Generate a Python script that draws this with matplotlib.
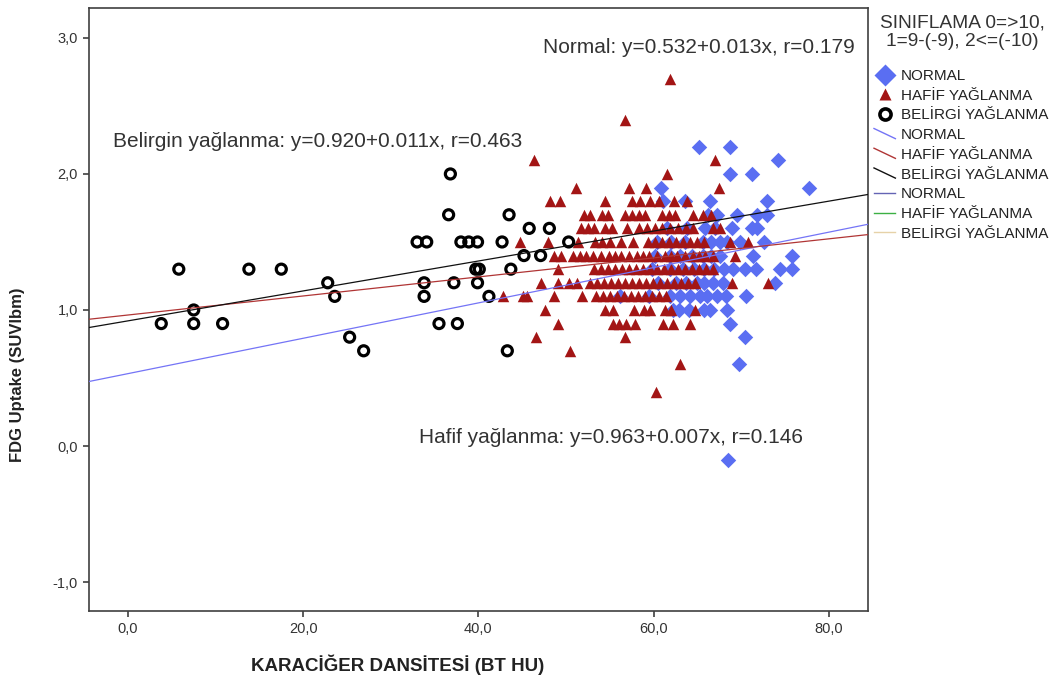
import matplotlib
matplotlib.use("Agg")
import matplotlib.pyplot as plt
import numpy as np
from matplotlib.lines import Line2D
from matplotlib.legend_handler import HandlerBase

plt.rcParams['font.family'] = ['Liberation Sans', 'DejaVu Sans']

# Belirgin yaglanma (open circles)
belirgin_x = [3.8, 5.8, 7.5, 7.5, 10.8, 13.8, 17.5, 22.8, 23.6, 25.3, 26.9, 33.0, 34.1, 33.8,
              33.8, 35.5, 36.6, 36.8, 37.2, 37.6, 38.0, 38.9, 39.9, 39.7, 40.1, 39.9, 41.2,
              42.7, 43.5, 43.7, 43.3, 45.2, 45.8, 47.1, 48.1, 50.3]
belirgin_y = [0.9, 1.3, 1.0, 0.9, 0.9, 1.3, 1.3, 1.2, 1.1, 0.8, 0.7, 1.5, 1.5, 1.2,
              1.1, 0.9, 1.7, 2.0, 1.2, 0.9, 1.5, 1.5, 1.5, 1.3, 1.3, 1.2, 1.1,
              1.5, 1.7, 1.3, 0.7, 1.4, 1.6, 1.4, 1.6, 1.5]

# Hafif yaglanma (triangles), read row by row
hafif_row_y = [2.7, 2.4, 2.1, 2.0, 1.9, 1.8, 1.7, 1.6, 1.5, 1.4, 1.3, 1.2, 1.1, 1.0,
               0.9, 0.8, 0.7, 0.6, 0.4]
hafif_row_x = [
    [61.9],
    [56.7],
    [46.3, 67.0],
    [61.5],
    [51.1, 57.2, 59.1, 67.5],
    [48.2, 49.3, 54.5, 57.5, 58.5, 59.6, 60.6, 62.3, 63.8],
    [52.0, 52.7, 54.1, 54.8, 56.7, 57.5, 58.3, 59.0, 60.9, 61.7, 62.4, 64.5, 65.6, 66.6],
    [51.7, 52.5, 53.2, 54.4, 55.2, 57.0, 58.3, 59.2, 60.1, 61.0, 61.9, 62.8, 63.7, 64.5,
     66.8, 67.6],
    [44.7, 48.0, 51.4, 53.3, 54.1, 55.0, 56.3, 57.6, 59.4, 60.2, 61.0, 61.8, 62.6, 63.4,
     64.2, 65.0, 65.8, 68.7, 70.8],
    [48.6, 49.4, 50.8, 51.6, 52.3, 53.1, 54.0, 54.9, 55.6, 56.3, 57.2, 58.1, 58.8, 59.5,
     60.4, 61.3, 62.0, 62.7, 63.6, 64.5, 65.2, 65.9, 66.8, 69.3],
    [49.1, 53.2, 54.0, 54.8, 55.6, 56.4, 57.2, 58.0, 58.8, 59.6, 60.4, 61.2, 62.0, 62.8,
     63.6, 64.4, 65.2, 66.0, 66.8],
    [47.2, 49.1, 50.3, 51.2, 52.7, 53.5, 54.3, 55.1, 55.9, 56.7, 57.5, 58.3, 59.1, 59.9,
     60.7, 61.5, 62.3, 63.1, 63.9, 64.7, 68.9, 73.1],
    [42.8, 45.1, 45.6, 48.6, 51.8, 53.4, 54.2, 55.0, 55.8, 56.6, 57.4, 58.2, 59.0, 59.8,
     60.6, 61.4],
    [47.6, 54.5, 55.4, 57.8, 58.9, 59.6, 61.3, 62.0, 64.7],
    [49.1, 55.4, 56.1, 56.8, 57.9, 61.1, 62.2, 64.2],
    [46.6, 56.7],
    [50.4],
    [63.0],
    [60.3],
]

# Normal (diamonds)
normal_x = [65.2, 68.7, 74.2, 68.7, 71.2, 77.7, 60.8,
            61.1, 63.6, 66.4, 72.9,
            66.2, 67.2, 69.5, 71.8, 72.9,
            61.5, 63.8, 65.9, 67.0, 68.9, 71.2, 71.8,
            60.4, 62.0, 63.6, 65.6, 66.6, 67.6, 68.4, 69.9, 72.6,
            60.2, 61.9, 63.0, 64.4, 65.6, 66.6, 67.6, 71.3, 75.8,
            59.8, 61.9, 63.3, 64.6, 65.7, 66.9, 68.0, 69.1, 70.4, 71.7, 74.4, 75.8,
            60.5, 62.6, 63.7, 64.9, 65.7, 66.8, 67.9, 73.9,
            56.2, 59.5, 61.9, 63.0, 64.2, 65.3, 66.1, 67.2, 68.3, 70.6,
            62.2, 62.9, 64.0, 65.7, 66.4, 68.4,
            68.7, 70.4, 69.7, 68.5]
normal_y = [2.2, 2.2, 2.1, 2.0, 2.0, 1.9, 1.9,
            1.8, 1.8, 1.8, 1.8,
            1.7, 1.7, 1.7, 1.7, 1.7,
            1.6, 1.6, 1.6, 1.6, 1.6, 1.6, 1.6,
            1.5, 1.5, 1.5, 1.5, 1.5, 1.5, 1.5, 1.5, 1.5,
            1.4, 1.4, 1.4, 1.4, 1.4, 1.4, 1.4, 1.4, 1.4,
            1.3, 1.3, 1.3, 1.3, 1.3, 1.3, 1.3, 1.3, 1.3, 1.3, 1.3, 1.3,
            1.2, 1.2, 1.2, 1.2, 1.2, 1.2, 1.2, 1.2,
            1.1, 1.1, 1.1, 1.1, 1.1, 1.1, 1.1, 1.1, 1.1, 1.1,
            1.0, 1.0, 1.0, 1.0, 1.0, 1.0,
            0.9, 0.8, 0.6, -0.1]

# fit lines: intercept, slope (from the chart annotations)
fit_intercept = [0.532, 0.963, 0.920]
fit_slope = [0.013, 0.007, 0.011]
fit_r = [0.179, 0.146, 0.463]
fit_colors = ['#7474f6', '#b03535', '#101010']

legend_labels = ['NORMAL', 'HAFİF YAĞLANMA', 'BELİRGİ YAĞLANMA']

x_ticks = [0, 20, 40, 60, 80]
y_ticks = [-1, 0, 1, 2, 3]

hafif_x = [v for row in hafif_row_x for v in row]
hafif_y = [y for y, row in zip(hafif_row_y, hafif_row_x) for _ in row]


class SlopeHandler(HandlerBase):
    # diagonal line glyph like the SPSS legend
    def create_artists(self, legend, orig, xd, yd, w, h, fs, trans):
        ln = Line2D([-xd, -xd + w], [-yd + h * 1.0, -yd + h * 0.05],
                    color=orig.get_color(), lw=orig.get_linewidth(), transform=trans)
        return [ln]


fig = plt.figure(figsize=(10.59, 6.89), dpi=100)
ax = fig.add_axes([89 / 1059, 78 / 689, 779 / 1059, 603 / 689])

ax.scatter(normal_x, normal_y, marker='D', s=62, color='#5a6ef2', linewidths=0, zorder=2)
ax.scatter(hafif_x, hafif_y, marker='^', s=68, color='#a31515', linewidths=0, zorder=3)
ax.scatter(belirgin_x, belirgin_y, marker='o', s=52, facecolors='none',
           edgecolors='black', linewidths=2.3, zorder=4)

ax.set_xlim(-4.45, 84.47)
ax.set_ylim(-1.213, 3.22)

xx = np.array(ax.get_xlim())
for b0, b1, c in zip(fit_intercept, fit_slope, fit_colors):
    ax.plot(xx, b0 + b1 * xx, color=c, lw=0.9, zorder=5)

ann_font = 15
ax.text(47.4, 2.93, 'Normal: y=%.3f+%.3fx, r=%.3f' % (fit_intercept[0], fit_slope[0], fit_r[0]),
        fontsize=ann_font, color='#333333', va='center', ha='left')
ax.text(-1.7, 2.235, 'Belirgin yağlanma: y=%.3f+%.3fx, r=%.3f' % (fit_intercept[2], fit_slope[2], fit_r[2]),
        fontsize=ann_font, color='#333333', va='center', ha='left')
ax.text(33.2, 0.066, 'Hafif yağlanma: y=%.3f+%.3fx, r=%.3f' % (fit_intercept[1], fit_slope[1], fit_r[1]),
        fontsize=ann_font, color='#333333', va='center', ha='left')

ax.set_xticks(x_ticks, [('%.1f' % v).replace('.', ',') for v in x_ticks])
ax.set_yticks(y_ticks, [('%.1f' % v).replace('.', ',') for v in y_ticks])
ax.tick_params(direction='out', length=4, width=1.2, color='#404040',
               labelsize=10.5, labelcolor='#333333', pad=4)
for sp in ax.spines.values():
    sp.set_color('#404040')
    sp.set_linewidth(1.2)

fig.text(18 / 1059, 1 - 375 / 689, 'FDG Uptake (SUVlbm)', rotation=90, ha='center',
         va='center', fontsize=12, fontweight='bold', color='#222222')
fig.text(398 / 1059, 1 - 665 / 689, 'KARACİĞER DANSİTESİ (BT HU)', ha='center',
         va='center', fontsize=13.5, fontweight='bold', color='#222222')

# legend title as its own text, legend entries below
fig.text(962 / 1059, 1 - 32 / 689, 'SINIFLAMA 0=>10,\n1=9-(-9), 2<=(-10)', ha='center',
         va='center', multialignment='center', fontsize=13.8, linespacing=1.15,
         color='#333333')

handles = [
    Line2D([], [], ls='none', marker='D', ms=11, color='#5a6ef2', mec='none'),
    Line2D([], [], ls='none', marker='^', ms=8.5, color='#a31515', mec='none'),
    Line2D([], [], ls='none', marker='o', ms=8, mfc='none', mec='black', mew=2.6),
]
slope_lines = [Line2D([], [], color=c, lw=1.0) for c in fit_colors]
flat_lines = [Line2D([], [], color=c, lw=1.0) for c in ['#6464b4', '#3cb043', '#e6d2a8']]
handles += slope_lines + flat_lines
labels = legend_labels * 3
hmap = {h: SlopeHandler() for h in slope_lines}
leg = fig.legend(handles, labels, loc='upper left', bbox_to_anchor=(874 / 1059, 1 - 69 / 689),
                 frameon=False, fontsize=11, handlelength=1.4, handletextpad=0.35,
                 labelspacing=0.375, borderpad=0, borderaxespad=0, handler_map=hmap)
for t in leg.get_texts():
    t.set_color('#222222')

fig.savefig('out.png', dpi=100)
